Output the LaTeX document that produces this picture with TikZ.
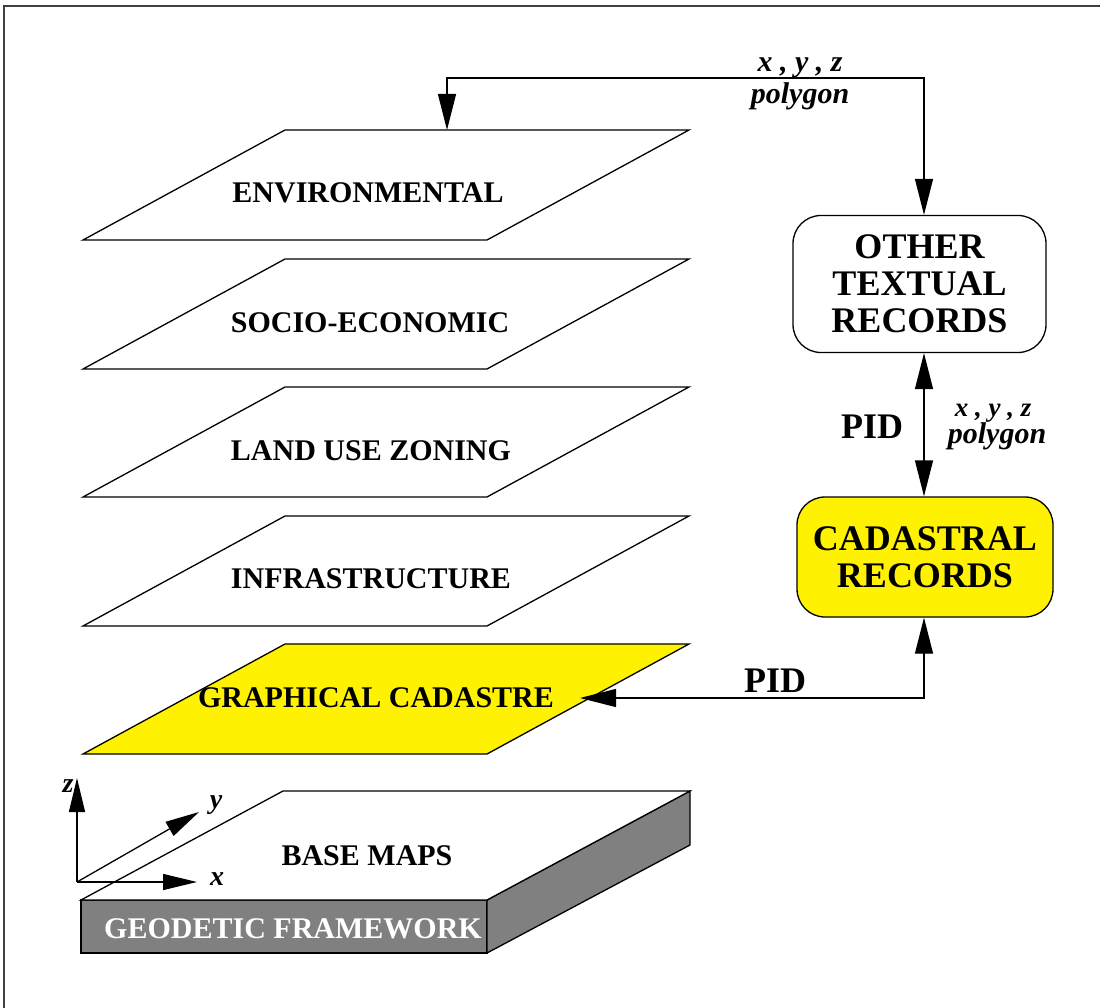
\documentclass[tikz,border=0pt]{standalone}
\usepackage{fontspec}
\setmainfont{Liberation Serif}
\usetikzlibrary{arrows.meta,calc}
\begin{document}
\begin{tikzpicture}[x=1pt,y=-1pt,
  edge/.style={draw=black,line width=1.3pt,line join=miter},
  lbl/.style={font=\fontsize{30}{36}\selectfont\bfseries,inner sep=0pt},
  biglbl/.style={font=\fontsize{36}{37}\selectfont\bfseries,inner sep=0pt},
  itlbl/.style={font=\fontsize{30}{32}\selectfont\bfseries\itshape,inner sep=0pt},
  smitlbl/.style={font=\fontsize{27}{30}\selectfont\bfseries\itshape,inner sep=0pt},
  axlbl/.style={font=\fontsize{28}{30}\selectfont\bfseries\itshape,inner sep=0pt},
  box/.style={draw=black,line width=1.3pt,rounded corners=28pt,inner sep=0pt,
    align=center,font=\fontsize{36}{37}\selectfont\bfseries},
  link/.style={line width=1.3pt,{Triangle[length=36pt,width=18pt]}-{Triangle[length=36pt,width=18pt]}},
  axis/.style={line width=1.3pt,-{Triangle[length=34pt,width=16pt]}}
]
\useasboundingbox (0,0) rectangle (1100,1008);

% outer frame (top and left edges)
\draw[line width=1.5pt,black!75] (4,1008) -- (4,6) -- (1100,6);

% thematic layers
\foreach \t/\f in {130/white,259/white,387/white,516/white,644/yellow}
  \draw[edge,fill=\f] (285,\t) -- (689,\t) -- (487,\t+110) -- (83,\t+110) -- cycle;

\node[lbl] (env) at (368,193) {ENVIRONMENTAL};
\node[lbl] (soc) at (370,323) {SOCIO-ECONOMIC};
\node[lbl] (luz) at (371,451) {LAND USE ZONING};
\node[lbl] (inf) at (371,579) {INFRASTRUCTURE};
\node[lbl] (gc)  at (376,698) {GRAPHICAL CADASTRE};

% base slab
\draw[edge,fill=black!50] (81,900) -- (487,900) -- (487,953) -- (81,953) -- cycle;
\draw[edge,fill=black!50] (487,900) -- (690,791) -- (690,845) -- (487,953) -- cycle;
\draw[edge,fill=white] (283,791) -- (690,791) -- (487,900) -- (81,900) -- cycle;
\node[lbl] (base) at (367,856) {BASE MAPS};
\node[lbl,text=white] (geo) at (293,929) {GEODETIC FRAMEWORK};

% coordinate axes
\coordinate (o) at (77,882);
\coordinate (zt) at (77,778);
\coordinate (xt) at (197,882);
\coordinate (yt) at (199,812);
\draw[axis] (o) -- (zt);
\draw[axis] (o) -- (xt);
\draw[axis] (o) -- (yt);
\node[axlbl] (zl) at (68,786) {z};
\node[axlbl] (yl) at (216,805) {y};
\node[axlbl] (xl) at (217,879) {x};

% record boxes
\node[box,minimum width=253pt,minimum height=137pt] (other) at (919.5,284) {OTHER\\TEXTUAL\\RECORDS};
\node[box,fill=yellow,minimum width=256pt,minimum height=120pt] (cad) at (925,557) {CADASTRAL\\RECORDS};

% connectors
\coordinate (envtop) at (447,130);
\coordinate (rt) at (924,78);
\coordinate (gtip) at (580,698);
\coordinate (rb) at (924,698);
\draw[link] (envtop) -- (envtop |- rt) -- (rt) -- (rt |- other.north);
\draw[link] (other.south -| rt) -- (cad.north -| rt);
\draw[link] (gtip) -- (rb) -- (rb |- cad.south);

% connector labels
\node[itlbl,anchor=base] (xyzt) at (800,72) {x , y , z};
\node[itlbl,anchor=base] (polyt) at (800,104) {polygon};
\node[biglbl] (pida) at (872,427) {PID};
\node[biglbl] (pidb) at (775,681) {PID};
\node[smitlbl,anchor=base] (xyzr) at (993,416) {x , y , z};
\node[itlbl,anchor=base] (polyr) at (997,443) {polygon};
\end{tikzpicture}
\end{document}
